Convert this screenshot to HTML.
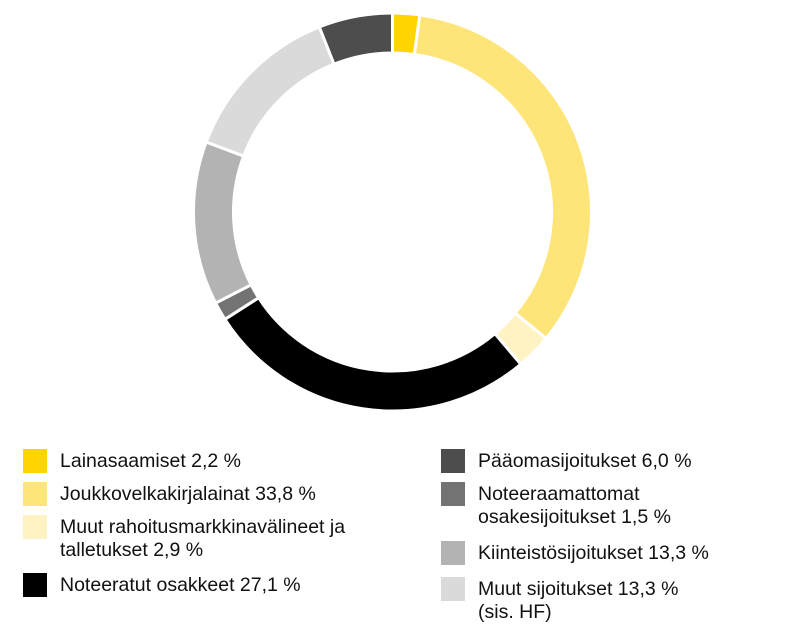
<!DOCTYPE html>
<html><head><meta charset="utf-8"><style>
body{margin:0;width:798px;height:634px;background:#fff;font-family:"Liberation Sans",sans-serif;color:#111;position:relative;overflow:hidden}
.sw{position:absolute;width:24px;height:24px}
.lt{position:absolute;font-size:19.5px;line-height:23px}
</style></head><body>
<svg id="chart" width="798" height="420" style="position:absolute;left:0;top:0"></svg>
<div>
<div class="sw" style="left:23px;top:449px;background:#ffd500"></div>
<div class="lt" style="left:60px;top:450px">Lainasaamiset 2,2 %</div>
<div class="sw" style="left:23px;top:482px;background:#fee57a"></div>
<div class="lt" style="left:60px;top:483px">Joukkovelkakirjalainat 33,8 %</div>
<div class="sw" style="left:23px;top:515px;background:#fff3c4"></div>
<div class="lt" style="left:60px;top:516px">Muut rahoitusmarkkinavälineet ja<br>talletukset 2,9 %</div>
<div class="sw" style="left:23px;top:573px;background:#000"></div>
<div class="lt" style="left:60px;top:574px">Noteeratut osakkeet 27,1 %</div>
<div class="sw" style="left:441px;top:449px;background:#4d4d4d"></div>
<div class="lt" style="left:478px;top:450px">Pääomasijoitukset 6,0 %</div>
<div class="sw" style="left:441px;top:482px;background:#737373"></div>
<div class="lt" style="left:478px;top:483px">Noteeraamattomat<br>osakesijoitukset 1,5 %</div>
<div class="sw" style="left:441px;top:541px;background:#b3b3b3"></div>
<div class="lt" style="left:478px;top:542px">Kiinteistösijoitukset 13,3 %</div>
<div class="sw" style="left:441px;top:577px;background:#dadada"></div>
<div class="lt" style="left:478px;top:578px">Muut sijoitukset 13,3 %<br>(sis. HF)</div>
</div>
<script>
const categories=["Lainasaamiset","Joukkovelkakirjalainat","Muut rahoitusmarkkinavälineet","Noteeratut osakkeet","Noteeraamattomat osakesijoitukset","Kiinteistösijoitukset","Muut sijoitukset","Pääomasijoitukset"];
const values=[2.2,33.8,2.9,27.1,1.5,13.3,13.3,6.0];
const colors=["#ffd500","#fee57a","#fff3c4","#000000","#737373","#b3b3b3","#dadada","#4d4d4d"];
const svg=document.getElementById('chart');
const cx=392.5,cy=212,R=199,r=159;
const total=values.reduce((a,b)=>a+b,0);
function pt(rad,a){return [cx+rad*Math.sin(a),cy-rad*Math.cos(a)];}
let acc=0;
values.forEach((v,i)=>{
  const a0=acc/total*2*Math.PI;acc+=v;const a1=acc/total*2*Math.PI;
  const large=(a1-a0)>Math.PI?1:0;
  const p1=pt(R,a0),p2=pt(R,a1),p3=pt(r,a1),p4=pt(r,a0);
  const p=document.createElementNS('http://www.w3.org/2000/svg','path');
  p.setAttribute('d',`M${p1} A${R},${R} 0 ${large} 1 ${p2} L${p3} A${r},${r} 0 ${large} 0 ${p4} Z`);
  p.setAttribute('fill',colors[i]);
  p.setAttribute('stroke','#fff');
  p.setAttribute('stroke-width','3');
  
  
  svg.appendChild(p);
});
</script>
</body></html>
